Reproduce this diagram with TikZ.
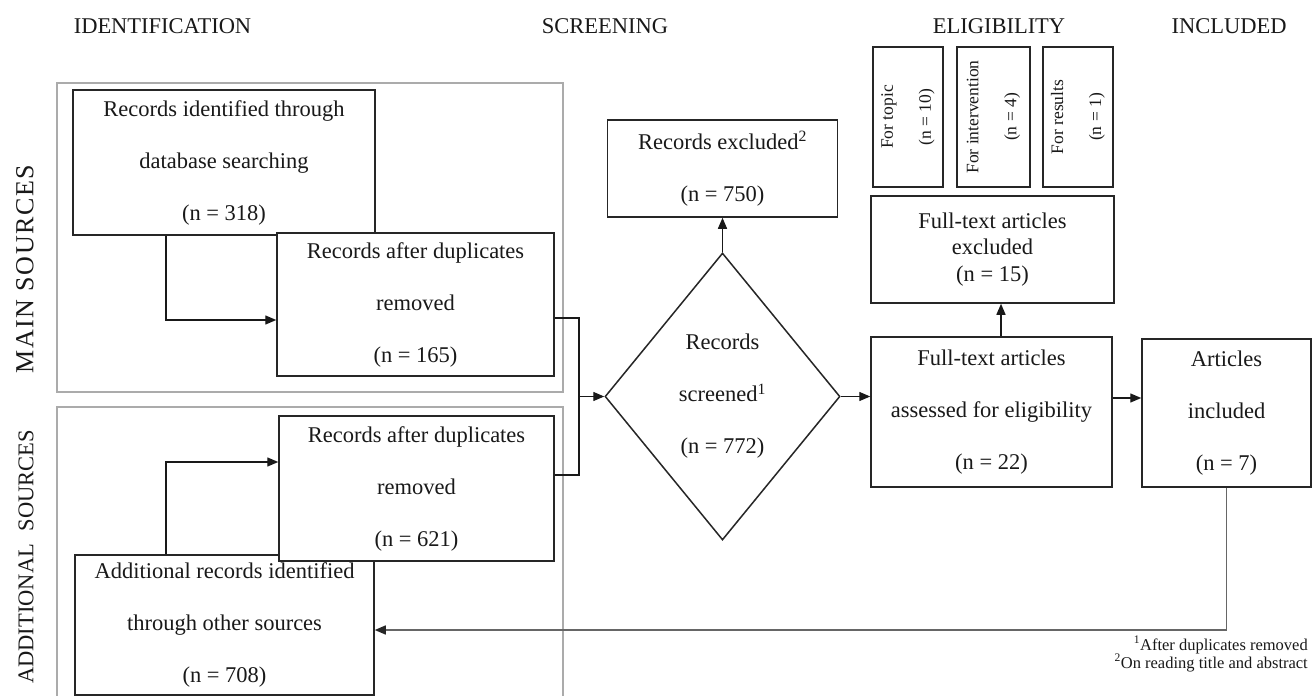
\documentclass[tikz,border=0pt]{standalone}
\usepackage{fontspec}
\setmainfont{Liberation Serif}
\usetikzlibrary{shapes.geometric,arrows.meta}
\begin{document}
\begin{tikzpicture}[x=1pt,y=-1pt,
  flowbox/.style={draw=black!85, line width=1.5pt, fill=white, inner sep=0pt, align=center, text=black!90, font=\fontsize{22.5}{52}\selectfont},
  tightbox/.style={flowbox, font=\fontsize{22.5}{26.5}\selectfont},
  smallbox/.style={draw=black!85, line width=1.5pt, fill=white, inner sep=0pt, align=center, rotate=90, text=black!90, font=\fontsize{17.5}{38}\selectfont, minimum width=140pt},
  grayframe/.style={draw=black!33, line width=1.2pt},
  con/.style={draw=black!90, line width=1.4pt},
  arr/.style={con, -{Triangle[length=11pt,width=9pt]}},
  heading/.style={font=\fontsize{22.5}{27}\selectfont, anchor=base, inner sep=0pt, text=black!90},
  sidelabel/.style={font=\fontsize{22.5}{27}\selectfont, rotate=90, inner sep=0pt, text=black!90},
  foot/.style={font=\fontsize{16.5}{18}\selectfont, anchor=base east, inner sep=0pt, text=black!90}
]
\useasboundingbox[fill=white] (0,0) rectangle (1315,696);

% headings
\node[heading] (hid) at (162.5,33) {IDENTIFICATION};
\node[heading] (hsc) at (605,33) {SCREENING};
\node[heading] (hel) at (999,33) {ELIGIBILITY};
\node[heading] (hin) at (1229,33) {INCLUDED};

% side labels
\node[sidelabel, font=\fontsize{26}{30}\selectfont] (lms) at (25,269) {\addfontfeature{LetterSpace=6}MAIN SOURCES};
\node[sidelabel] (las) at (26,557) {ADDITIONAL\hspace{0.55em}SOURCES};

% gray frames
\draw[grayframe] (57,83) rectangle (563,392);
\draw[grayframe] (57,700) -- (57,407) -- (563,407) -- (563,700);

% identification boxes
\node[flowbox, minimum width=302pt, minimum height=145pt] (A) at (224,162.5) {Records identified through\\database searching\\(n = 318)};
\node[flowbox, minimum width=277pt, minimum height=143pt] (B) at (415.5,304.5) {Records after duplicates\\removed\\(n = 165)};
\node[flowbox, minimum width=299pt, minimum height=140pt] (D) at (224.5,625) {Additional records identified\\through other sources\\(n = 708)};
\node[flowbox, minimum width=275pt, minimum height=145pt] (C) at (416.5,488.5) {Records after duplicates\\removed\\(n = 621)};

% screening
\node[flowbox, minimum width=230pt, minimum height=97pt] (excl) at (722.5,168.5) {Records excluded\textsuperscript{2}\\(n = 750)};
\node[diamond, draw=black!85, line width=1.5pt, fill=white, inner sep=0pt, minimum width=235pt, minimum height=287pt] (scr) at (722.5,396.5) {};
\node[align=center, inner sep=0pt, text=black!90, font=\fontsize{22.5}{52}\selectfont] (scrt) at (scr.center) {Records\\screened\textsuperscript{1}\\(n = 772)};

% eligibility
\node[smallbox, minimum height=70pt] (s1) at (908,117) {For topic\\(n = 10)};
\node[smallbox, minimum height=73pt] (s2) at (993.5,117) {For intervention\\(n = 4)};
\node[smallbox, minimum height=70pt] (s3) at (1078,117) {For results\\(n = 1)};
\node[tightbox, minimum width=243pt, minimum height=107pt] (ftex) at (992.5,249.5) {Full-text articles\\excluded\\(n = 15)};
\node[flowbox, minimum width=241pt, minimum height=150pt] (assess) at (991.5,412) {Full-text articles\\assessed for eligibility\\(n = 22)};

% included
\node[flowbox, minimum width=169pt, minimum height=148pt] (incl) at (1226.5,413) {Articles\\included\\(n = 7)};

% connectors
\draw[arr] ([xshift=-58pt]A.south) |- ([yshift=-15.5pt]B.west);
\draw[arr] ([xshift=-58.5pt]D.north) |- ([yshift=26.5pt]C.west);
\coordinate (jn) at (579,396.5);
\draw[con] ([yshift=-13.5pt]B.east) -| (jn) |- ([yshift=13.5pt]C.east);
\draw[arr] (jn) -- (scr.west);
\draw[arr] (scr.north) -- (excl.south);
\draw[arr] (scr.east) -- (scr.east -| assess.west);
\draw[arr] ([xshift=9.5pt]assess.north) -- ([xshift=9.5pt]assess.north |- ftex.south);
\draw[arr] ([yshift=14pt]assess.east) -- ([yshift=14pt]assess.east -| incl.west);
\draw[con, draw=black!60, -{Triangle[length=11pt,width=9pt,color=black!85]}] (incl.south) |- ([yshift=-5pt]D.east);

% footnotes
\node[foot] (fn1) at (1308,650) {\textsuperscript{1}After duplicates removed};
\node[foot] (fn2) at (1308,668) {\textsuperscript{2}On reading title and abstract};
\end{tikzpicture}
\end{document}
